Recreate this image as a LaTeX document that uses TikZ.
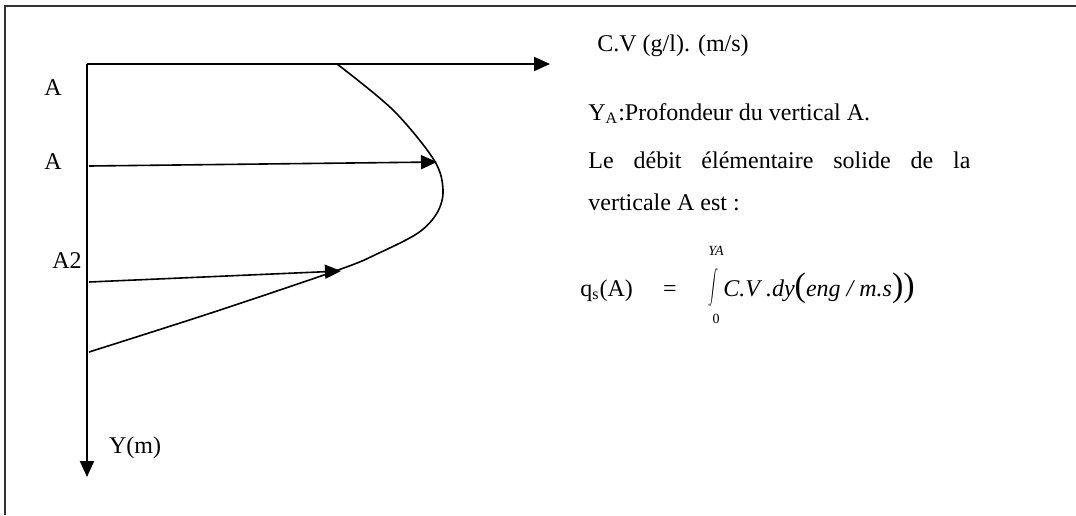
\documentclass[tikz,border=0pt]{standalone}
\usepackage{fontspec}
\setmainfont{Liberation Serif}
\usetikzlibrary{arrows.meta}
\tikzset{
	axis/.style = {line width=1pt, -{Triangle[length=8pt,width=7pt]}},
	flux/.style = {line width=0.8pt, -{Triangle[length=8pt,width=7pt]}},
	lbl/.style = {font=\fontsize{12pt}{14pt}\selectfont, inner sep=0pt},
	txt/.style = {lbl, anchor=base west},
	lim/.style = {lbl, font=\fontsize{7pt}{8pt}\selectfont},
}
\begin{document}
\begin{tikzpicture}[x=0.5pt, y=-0.5pt]
	\useasboundingbox (0,0) rectangle (1076,515);
	\draw [black!80, line width=1pt] (5,515) -- (5,6) -- (1076,6);
	\coordinate (O) at (87,64);
	\coordinate (xend) at (550,64);
	\coordinate (yend) at (87,477);
	\draw [axis] (O) -- (xend);
	\draw [axis] (O) -- (yend);
	\draw [line width=0.8pt] plot [smooth, tension=0.55] coordinates {(337,64) (393,110) (434,160) (443,190) (437,213) (418,233) (379,253) (341,269) (214,312) (89,352)};
	\coordinate (s1) at (89,166);
	\coordinate (e1) at (437,162);
	\coordinate (s2) at (89,282);
	\coordinate (e2) at (341,271);
	\draw [flux] (s1) -- (e1);
	\draw [flux] (s2) -- (e2);
	\node [lbl] (a0) at (53,88) {A};
	\node [lbl] (a1) at (53,162) {A};
	\node [lbl] (a2) at (67,261) {A2};
	\node [lbl] (ylab) at (135,448) {Y(m)};
	\node [txt] (cvlab) at (597,51) {C.V (g/l). (m/s)};
	\node [txt] (ydef) at (588,120) {Y\textsubscript{A}:Profondeur du vertical A.};
	\node [txt] (debit1) at (588,168) {\makebox[191pt][s]{Le débit élémentaire solide de la}};
	\node [txt] (debit2) at (588,210) {verticale A est :};
	\node [txt] (qsA) at (580,296) {q\textsubscript{s}(A)};
	\node [lbl] (eqsign) at (670,291) {=};
	\node [lbl] (intsign) at (713,287) {\resizebox*{5pt}{19pt}{$\displaystyle\int$}};
	\node [lim, font=\fontsize{7pt}{8pt}\selectfont\itshape] (intup) at (716,251) {YA};
	\node [lim] (intlow) at (716,319) {0};
	\node [txt] (intexpr) at (723,296) {\itshape C.V .dy{\upshape\fontsize{17pt}{17pt}\selectfont(}eng / m.s{\upshape\fontsize{17pt}{17pt}\selectfont))}};
\end{tikzpicture}
\end{document}
